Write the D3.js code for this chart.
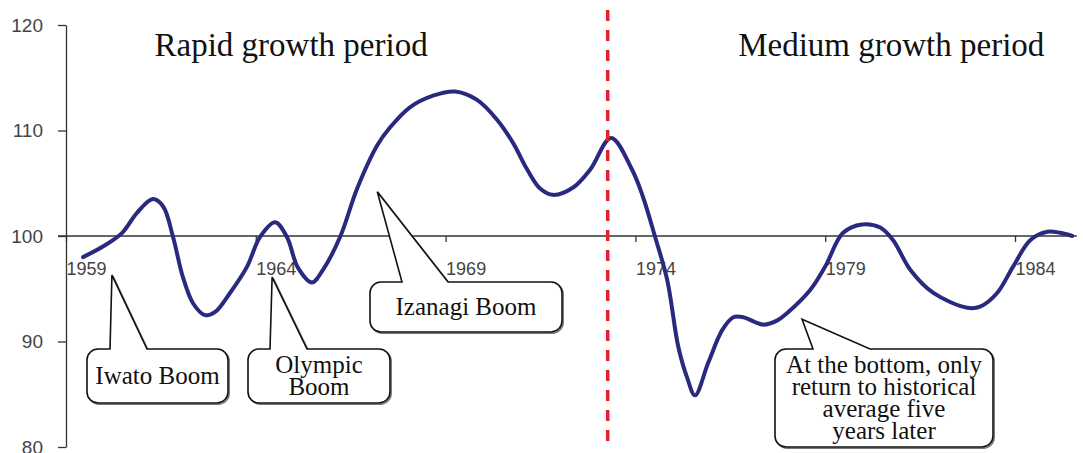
<!DOCTYPE html>
<html>
<head>
<meta charset="utf-8">
<script src="https://cdn.jsdelivr.net/npm/d3@7"></script>
<style>
  html, body { margin: 0; padding: 0; background: #fff; }
  svg { display: block; }
</style>
</head>
<body>
<svg id="chart" width="1083" height="453"></svg>
<script>
// Business-cycle index (100 = historical average), 1959–1985
const years = [
  1959.45, 1959.97, 1960.48, 1960.87, 1961.29, 1961.56, 1961.82, 1962.08, 1962.35, 1962.66,
  1962.93, 1963.32, 1963.77, 1964.11, 1964.51, 1964.82, 1965.11, 1965.48, 1965.77, 1966.22,
  1966.67, 1967.20, 1967.54, 1968.06, 1968.67, 1969.25, 1969.83, 1970.36, 1970.78, 1971.15,
  1971.49, 1971.83, 1972.36, 1972.81, 1973.36, 1973.91, 1974.20, 1974.52, 1974.84, 1975.13,
  1975.36, 1975.57, 1975.92, 1976.29, 1976.58, 1976.84, 1977.37, 1977.74, 1978.00, 1978.61,
  1979.00, 1979.47, 1979.97, 1980.45, 1980.79, 1981.24, 1981.85, 1982.74, 1983.08, 1983.53,
  1983.95, 1984.40, 1984.85, 1985.19, 1985.51
];
const index = [
  98.0, 99.0, 100.3, 102.2, 103.5, 102.8, 99.9, 96.1, 93.6, 92.5,
  92.8, 94.6, 97.1, 99.9, 101.3, 99.9, 97.0, 95.6, 96.8, 99.9,
  104.5, 108.6, 110.3, 112.2, 113.3, 113.7, 112.9, 111.0, 108.8, 106.3,
  104.5, 103.9, 104.6, 106.3, 109.3, 106.3, 103.7, 99.9, 95.8, 89.5,
  86.6, 84.9, 88.0, 91.1, 92.3, 92.3, 91.6, 92.0, 92.7, 94.9,
  97.1, 100.3, 101.1, 100.8, 99.6, 96.8, 94.6, 93.2, 93.3, 94.6,
  97.1, 99.6, 100.4, 100.3, 100.0
];
const yearTicks = [1959, 1964, 1969, 1974, 1979, 1984];
const valueTicks = [80, 90, 100, 110, 120];
const baseline = 100;
const splitYear = 1973.27;
const periodTitles = ["Rapid growth period", "Medium growth period"];
const periodTitleYears = [1964.93, 1980.74];

// Speech-bubble callouts: tail tip in data units, box in pixels
const callouts = [
  { lines: ["Iwato Boom"], tip: [1960.21, 96.3], box: [87, 349, 228, 403], base: [110, 147] },
  { lines: ["Olympic", "Boom"], tip: [1964.43, 96.1], box: [248, 349, 390, 403], base: [270, 307] },
  { lines: ["Izanagi Boom"], tip: [1967.2, 104.2], box: [370, 282, 562, 332], base: [402, 448] },
  { lines: ["At the bottom, only", "return to historical", "average five", "years later"],
    tip: [1978.39, 92.1], box: [775, 349, 993, 447], base: [813, 870] }
];

const svg = d3.select("#chart");

const x = d3.scaleLinear().domain([1959, 1984]).range([66, 1015]);
const y = d3.scaleLinear().domain([80, 120]).range([447, 25]);

const sans = "'Liberation Sans', Arial, sans-serif";
const serif = "'Liberation Serif', 'Times New Roman', serif";

// Y axis
const yAxis = svg.append("g")
  .attr("transform", `translate(${x(1959)},0)`)
  .call(d3.axisLeft(y).tickValues(valueTicks).tickSize(8).tickSizeOuter(0).tickPadding(15));
yAxis.select(".domain").attr("stroke", "#333").attr("stroke-width", 1.3);
yAxis.selectAll(".tick line").attr("stroke", "#333").attr("stroke-width", 1.3);
yAxis.selectAll(".tick text")
  .attr("font-family", sans).attr("font-size", 19).attr("fill", "#444");

// Baseline (100) with year ticks
svg.append("line")
  .attr("x1", x(1959) - 8).attr("x2", x(1985.63))
  .attr("y1", y(baseline)).attr("y2", y(baseline))
  .attr("stroke", "#333").attr("stroke-width", 1.3);

const xAxis = svg.append("g")
  .attr("transform", `translate(0,${y(baseline)})`)
  .call(d3.axisBottom(x).tickValues(yearTicks).tickFormat(d3.format("d")).tickSize(6).tickSizeOuter(0));
xAxis.select(".domain").remove();
xAxis.selectAll(".tick line").attr("stroke", "#333").attr("stroke-width", 1.3);
xAxis.selectAll(".tick text")
  .attr("font-family", sans).attr("font-size", 18).attr("fill", "#444")
  .attr("text-anchor", "start").attr("y", 39).attr("dy", 0);

// Period titles
svg.selectAll("text.period")
  .data(periodTitles)
  .join("text")
  .attr("class", "period")
  .attr("x", (d, i) => x(periodTitleYears[i]))
  .attr("y", 56)
  .attr("text-anchor", "middle")
  .attr("font-family", serif).attr("font-size", 33).attr("fill", "#111")
  .text(d => d);

// Index line
const line = d3.line()
  .x((d, i) => x(years[i]))
  .y(d => y(d))
  .curve(d3.curveCatmullRom.alpha(0.5));

svg.append("path")
  .datum(index)
  .attr("d", line)
  .attr("fill", "none")
  .attr("stroke", "#29297f")
  .attr("stroke-width", 4)
  .attr("stroke-linejoin", "round")
  .attr("stroke-linecap", "round");

// Regime split marker
svg.append("line")
  .attr("x1", x(splitYear)).attr("x2", x(splitYear))
  .attr("y1", 10).attr("y2", y(80))
  .attr("stroke", "#e3232b").attr("stroke-width", 3.5)
  .attr("stroke-dasharray", "11 9");

// Speech bubbles
function bubblePath(c) {
  const [x0, y0, x1, y1] = c.box;
  const r = 11;
  const tx = x(c.tip[0]), ty = y(c.tip[1]);
  return [
    `M${x0 + r},${y0}`,
    `L${c.base[0]},${y0}`,
    `L${tx},${ty}`,
    `L${c.base[1]},${y0}`,
    `L${x1 - r},${y0}`,
    `A${r},${r} 0 0 1 ${x1},${y0 + r}`,
    `L${x1},${y1 - r}`,
    `A${r},${r} 0 0 1 ${x1 - r},${y1}`,
    `L${x0 + r},${y1}`,
    `A${r},${r} 0 0 1 ${x0},${y1 - r}`,
    `L${x0},${y0 + r}`,
    `A${r},${r} 0 0 1 ${x0 + r},${y0}`,
    "Z"
  ].join(" ");
}

const bubbles = svg.selectAll("g.callout")
  .data(callouts)
  .join("g")
  .attr("class", "callout");

bubbles.append("path")
  .attr("d", bubblePath)
  .attr("transform", "translate(1.2,1.2)")
  .attr("fill", "none")
  .attr("stroke", "#777")
  .attr("stroke-width", 1.5);

bubbles.append("path")
  .attr("d", bubblePath)
  .attr("fill", "#fff")
  .attr("stroke", "#111")
  .attr("stroke-width", 1.6)
  .attr("stroke-linejoin", "miter");

bubbles.each(function (c) {
  const [x0, y0, x1, y1] = c.box;
  const lh = 22;
  const cx = (x0 + x1) / 2;
  const cy = (y0 + y1) / 2;
  const firstBase = cy + 8 - (c.lines.length - 1) * lh / 2;
  d3.select(this).selectAll("text")
    .data(c.lines)
    .join("text")
    .attr("x", cx)
    .attr("y", (d, i) => firstBase + i * lh)
    .attr("text-anchor", "middle")
    .attr("font-family", serif).attr("font-size", 25).attr("fill", "#111")
    .text(d => d);
});
</script>
</body>
</html>
